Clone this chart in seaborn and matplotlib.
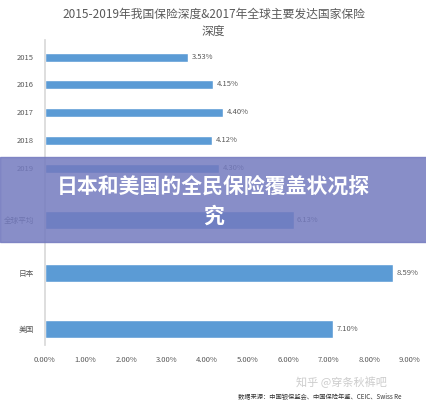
import matplotlib
matplotlib.use("Agg")
import matplotlib.pyplot as plt
import seaborn as sns
import pandas as pd
from matplotlib.patches import Rectangle

categories = ["2015", "2016", "2017", "2018", "2019", "全球平均", "日本", "美国"]
values = [3.53, 4.15, 4.40, 4.12, 4.30, 6.13, 8.59, 7.10]
xticks = [0, 1, 2, 3, 4, 5, 6, 7, 8, 9]

sns.set_theme(style="white")
plt.rcParams['font.family'] = ['Noto Sans CJK SC', 'DejaVu Sans']

# layout: row centres (pixel rows) and bar thickness
rows = [57, 84, 112, 140, 168, 220, 273, 329]
thick = [9, 9, 9, 9, 9, 18, 18, 18]

fig = plt.figure(figsize=(4.27, 4.0), dpi=100)
ax = fig.add_axes([45/427, 1-345/400, (410-45)/427, (345-40)/400])
df = pd.DataFrame({"cat": categories, "val": values, "pos": rows})
sns.barplot(data=df, x="val", y="pos", orient="h", native_scale=True,
            color="#5b9bd5", saturation=1, width=9, ax=ax)
# adjust thicknesses
for p, t, r in zip(ax.patches, thick, rows):
    p.set_height(t)
    p.set_y(r - t/2)
ax.set_ylim(345, 40)
ax.set_xlim(0, 9)
ax.set_yticks(rows)
ax.set_yticklabels(categories, fontsize=5.5, color="#595959")
ax.set_xticks(xticks)
ax.set_xticklabels([f"{v:.2f}%" for v in xticks], fontsize=5.5, color="#595959")
ax.tick_params(length=0, pad=8)
ax.set_xlabel(""); ax.set_ylabel("")
for s in ["top", "right", "bottom"]:
    ax.spines[s].set_visible(False)
ax.spines["left"].set_color("#d9d9d9")
for v, r in zip(values, rows):
    ax.text(v + 0.08, r, f"{v:.2f}%", fontsize=5.5, va="center", color="#595959")

fig.text(0.5, 1-14/400, "2015-2019年我国保险深度&2017年全球主要发达国家保险", ha="center",
         va="center", fontsize=8.5, color="#595959")
fig.text(0.5, 1-31/400, "深度", ha="center", va="center", fontsize=8.5, color="#595959")

fig.patches.append(Rectangle((0, 1-242/400), 1, 85/400, transform=fig.transFigure,
                             color=(0.45, 0.48, 0.75, 0.85), zorder=5))
fig.text(0.5, 1-186/400, "日本和美国的全民保险覆盖状况探", ha="center", va="center",
         fontsize=15, fontweight="bold", color="white", zorder=6)
fig.text(0.5, 1-216/400, "究", ha="center", va="center",
         fontsize=15, fontweight="bold", color="white", zorder=6)

fig.text(0.8, 1-382/400, "知乎 @穿条秋裤吧", ha="center", va="center", fontsize=8, color="#cccccc")
fig.text(0.75, 1-396/400, "数据来源：中国银保监会、中国保险年鉴、CEIC、Swiss Re", ha="center",
         va="center", fontsize=4.5, color="#333333")
fig.savefig("out.png", dpi=100)
